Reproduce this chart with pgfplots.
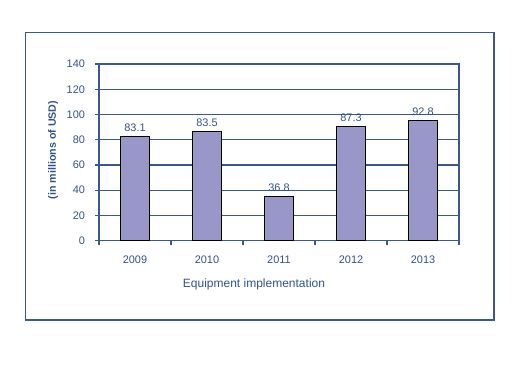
\documentclass[border=0pt]{standalone}
\usepackage{pgfplots}
\pgfplotsset{compat=1.18}
\usepackage{fontspec}
\setmainfont{Liberation Sans}
\definecolor{txt}{RGB}{52,82,138}
\definecolor{gridc}{RGB}{58,88,140}
\definecolor{barc}{RGB}{153,150,200}
\begin{document}
\begin{tikzpicture}[x=0.75pt,y=0.75pt]
\path (0,0) rectangle (520,366);
\draw[gridc, line width=0.9pt] (25.5,46) rectangle (494,333.5);
\coordinate (A) at (99,125.3);
\begin{axis}[
  at={(A)}, anchor=south west,
  scale only axis, width=270pt, height=132.5pt,
  xmin=-0.5, xmax=4.5, ymin=0, ymax=140,
  ytick={0,20,...,140},
  xtick={-0.5,0.5,...,4.5},
  xticklabels={2009,2010,2011,2012,2013},
  x tick label as interval,
  ymajorgrids, grid style={gridc, line width=0.8pt},
  axis line style={gridc, line width=0.8pt},
  tick style={gridc, line width=0.8pt},
  tick align=outside, major tick length=3pt,
  xtick pos=bottom, ytick pos=left,
  ybar, bar width=21.75pt,
  ticklabel style={txt, font=\fontsize{8.2}{10}\selectfont},
  /pgf/number format/assume math mode=true,
  xticklabel style={yshift=-4.5pt},
  yticklabel style={xshift=-4pt},
  nodes near coords, point meta=explicit symbolic,
  nodes near coords style={txt, font=\fontsize{8.2}{10}\selectfont},
]
\addplot[fill=barc, draw=black, line width=0.6pt] coordinates {
  (0,82.8) [83.1]
  (1,86.9) [83.5]
  (2,35.4) [36.8]
  (3,90.6) [87.3]
  (4,95.1) [92.8]
};
\end{axis}
\node[txt, font=\fontsize{9}{11}\selectfont] at (254,82) {Equipment implementation};
\node[txt, font=\bfseries\fontsize{8}{10}\selectfont, rotate=90] at (53,216) {(in millions of USD)};
\end{tikzpicture}
\end{document}
